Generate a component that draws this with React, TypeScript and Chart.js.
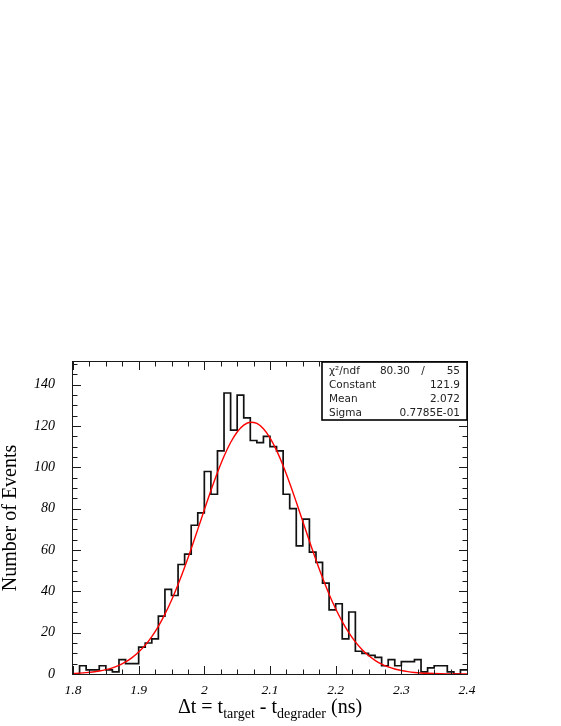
import React, { useEffect, useRef } from 'react';
import { Chart, registerables } from 'chart.js';

Chart.register(...registerables);

// ---- data ----
const BIN_START = 1.8;
const BIN_WIDTH = 0.01;
const COUNTS = [
  0, 4, 2, 2, 4, 2, 1, 7, 5, 5,
  13, 15, 17, 28, 41, 38, 53, 58, 72, 78,
  98, 87, 108, 136, 118, 135, 124, 113, 112, 115,
  110, 108, 87, 80, 62, 75, 59, 54, 44, 31,
  34, 17, 30, 11, 10, 9, 8, 4, 7, 4,
  6, 6, 7, 1, 3, 4, 4, 1, 0, 2,
];

const FIT_START = 1.8;
const FIT_STEP = 0.01;
const FIT_VALUES = [
  0.27, 0.42, 0.65, 0.97, 1.44, 2.09, 2.99, 4.21, 5.82, 7.93,
  10.62, 13.99, 18.12, 23.09, 28.95, 35.7, 43.31, 51.67, 60.63, 70.0,
  79.48, 88.77, 97.52, 105.39, 112.03, 117.13, 120.46, 121.86, 121.26, 118.68,
  114.26, 108.21, 100.8, 92.35, 83.23, 73.8, 64.35, 55.19, 46.57, 38.64,
  31.55, 25.33, 20.01, 15.54, 11.88, 8.93, 6.6, 4.8, 3.44, 2.42,
  1.67, 1.14, 0.76, 0.5, 0.33, 0.21, 0.13, 0.08, 0.05, 0.03, 0.02,
];

const X_MIN = 1.8;
const X_MAX = 2.4;
const X_MAJOR = 0.1;
const X_MINOR = 0.025;
const Y_MIN = 0;
const Y_MAX = 151;
const Y_MAJOR = 20;
const Y_MINOR = 5;

const STATS_LABELS = ['χ²/ndf', 'Constant', 'Mean', 'Sigma'];
const STATS_VALUES = ['55', '121.9', '2.072', '0.7785E-01'];
const CHI2_VALUE = '80.30';
const Y_TITLE = 'Number of Events';
const X_TITLE_PARTS = [
  { text: 'Δt = t', sub: false },
  { text: 'target', sub: true },
  { text: ' - t', sub: false },
  { text: 'degrader', sub: true },
  { text: ' (ns)', sub: false },
];

const fmtX = (v: number) => String(parseFloat(Number(v).toFixed(2)));

const rootFrame = {
  id: 'rootFrame',
  afterDatasetsDraw(chart: any) {
    const { ctx, chartArea: a } = chart;
    const xs = chart.scales.x;
    const ys = chart.scales.y;
    ctx.save();
    ctx.strokeStyle = '#1a1a1a';
    ctx.lineWidth = 1;
    ctx.beginPath();
    const nx = Math.round((X_MAX - X_MIN) / X_MINOR);
    const perX = Math.round(X_MAJOR / X_MINOR);
    for (let k = 0; k <= nx; k++) {
      const v = X_MIN + k * X_MINOR;
      const px = Math.round(xs.getPixelForValue(v)) + 0.5;
      const len = k % perX === 0 ? 8 : 4.5;
      ctx.moveTo(px, a.bottom);
      ctx.lineTo(px, a.bottom - len);
      ctx.moveTo(px, a.top);
      ctx.lineTo(px, a.top + len);
    }
    const perY = Math.round(Y_MAJOR / Y_MINOR);
    for (let k = 0; Y_MIN + k * Y_MINOR <= Y_MAX; k++) {
      const v = Y_MIN + k * Y_MINOR;
      const py = Math.round(ys.getPixelForValue(v)) + 0.5;
      const len = k % perY === 0 ? 8 : 4.5;
      ctx.moveTo(a.left, py);
      ctx.lineTo(a.left + len, py);
      ctx.moveTo(a.right, py);
      ctx.lineTo(a.right - len, py);
    }
    ctx.stroke();
    ctx.strokeRect(a.left - 0.5, a.top - 0.5, a.right - a.left + 1, a.bottom - a.top + 1);

    // stats box
    const bx = a.right - 145;
    const by = a.top;
    const bw = 145;
    const bh = 58;
    ctx.fillStyle = '#ffffff';
    ctx.fillRect(bx, by, bw, bh);
    ctx.lineWidth = 1.6;
    ctx.strokeStyle = '#000';
    ctx.strokeRect(bx, by, bw, bh);
    ctx.fillStyle = '#222';
    ctx.font = '10.5px "DejaVu Sans"';
    ctx.textBaseline = 'alphabetic';
    const baselines = [11.5, 25.8, 40, 54.3];
    STATS_LABELS.forEach((lab, i) => {
      ctx.textAlign = 'left';
      ctx.fillText(lab, bx + 7, by + baselines[i]);
      ctx.textAlign = 'right';
      ctx.fillText(STATS_VALUES[i], bx + bw - 7, by + baselines[i]);
    });
    ctx.textAlign = 'right';
    ctx.fillText(CHI2_VALUE, bx + 88, by + baselines[0]);
    ctx.textAlign = 'center';
    ctx.fillText('/', bx + 101, by + baselines[0]);
    ctx.restore();
  },
  afterDraw(chart: any) {
    const { ctx, chartArea: a } = chart;
    ctx.save();
    ctx.fillStyle = '#000';
    ctx.textBaseline = 'alphabetic';
    ctx.textAlign = 'left';
    const big = '20px "Liberation Serif"';
    const small = '14px "Liberation Serif"';
    let total = 0;
    X_TITLE_PARTS.forEach((p) => {
      ctx.font = p.sub ? small : big;
      total += ctx.measureText(p.text).width;
    });
    let x = (a.left + a.right) / 2 - total / 2;
    const base = a.bottom + 38.5;
    X_TITLE_PARTS.forEach((p) => {
      ctx.font = p.sub ? small : big;
      ctx.fillText(p.text, x, p.sub ? base + 5 : base);
      x += ctx.measureText(p.text).width;
    });
    ctx.restore();
  },
};

export default function App() {
  const ref = useRef<HTMLCanvasElement | null>(null);
  useEffect(() => {
    if (!ref.current) return;
    const histPoints = COUNTS.map((c, i) => ({ x: BIN_START + i * BIN_WIDTH, y: c }));
    histPoints.push({ x: BIN_START + COUNTS.length * BIN_WIDTH, y: COUNTS[COUNTS.length - 1] });
    const fitPoints = FIT_VALUES.map((v, i) => ({ x: FIT_START + i * FIT_STEP, y: v }));
    const chart = new Chart(ref.current, {
      type: 'line',
      data: {
        datasets: [
          {
            data: histPoints,
            stepped: true,
            borderColor: '#111',
            borderWidth: 1.7,
            pointRadius: 0,
            fill: false,
            order: 2,
          },
          {
            data: fitPoints,
            borderColor: '#ff0000',
            borderWidth: 1.4,
            pointRadius: 0,
            cubicInterpolationMode: 'monotone',
            fill: false,
            order: 1,
          },
        ],
      },
      options: {
        responsive: false,
        animation: false,
        events: [],
        layout: { padding: { top: 362, right: 94, left: 0, bottom: 0 } },
        plugins: { legend: { display: false }, tooltip: { enabled: false } },
        scales: {
          x: {
            type: 'linear',
            min: X_MIN,
            max: X_MAX,
            grid: { display: false },
            border: { display: false },
            ticks: {
              stepSize: X_MAJOR,
              color: '#000',
              padding: 0,
              maxRotation: 0,
              font: { family: '"Liberation Serif"', size: 13.5, style: 'italic' },
              callback: (v: any) => fmtX(v),
            },
            afterFit: (s: any) => {
              s.height = 52;
            },
          },
          y: {
            type: 'linear',
            min: Y_MIN,
            max: Y_MAX,
            grid: { display: false },
            border: { display: false },
            title: {
              display: true,
              text: Y_TITLE,
              color: '#000',
              padding: { top: 0, bottom: 0 },
              font: { family: '"Liberation Serif"', size: 20, lineHeight: 1.05 },
            },
            ticks: {
              stepSize: Y_MAJOR,
              includeBounds: false,
              color: '#000',
              padding: 10,
              font: { family: '"Liberation Serif"', size: 14, style: 'italic' },
            },
            afterFit: (s: any) => {
              s.width = 73;
            },
          },
        },
      },
      plugins: [rootFrame],
    });
    return () => chart.destroy();
  }, []);
  return (
    <div style={{ position: 'absolute', left: 0, top: 0, width: 561, height: 726 }}>
      <canvas ref={ref} width={561} height={726} style={{ display: 'block' }} />
    </div>
  );
}
